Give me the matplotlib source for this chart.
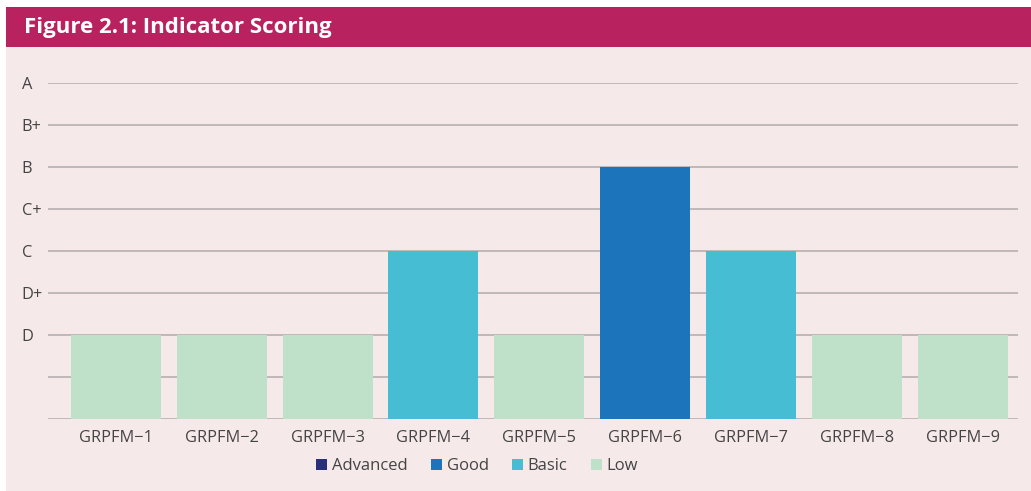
import matplotlib.pyplot as plt
from matplotlib.patches import Rectangle, Patch

plt.rcParams['font.family'] = ['Open Sans', 'DejaVu Sans']

# data
indicators = ['GRPFM\u22121', 'GRPFM\u22122', 'GRPFM\u22123', 'GRPFM\u22124', 'GRPFM\u22125',
              'GRPFM\u22126', 'GRPFM\u22127', 'GRPFM\u22128', 'GRPFM\u22129']
scores = [2, 2, 2, 4, 2, 6, 4, 2, 2]          # 2 = D, 4 = C, 6 = B
levels = ['Low', 'Low', 'Low', 'Basic', 'Low', 'Good', 'Basic', 'Low', 'Low']
grade_ticks = [0, 1, 2, 3, 4, 5, 6, 7, 8]
grade_labels = ['', '', 'D', 'D+', 'C', 'C+', 'B', 'B+', 'A']
legend_names = ['Advanced', 'Good', 'Basic', 'Low']

colors = {'Advanced': '#2a2f7c', 'Good': '#1c74bb', 'Basic': '#47bdd3', 'Low': '#bfe1ca'}

fig = plt.figure(figsize=(10.31, 4.91), dpi=100)
W, H = 1031, 491

# panel background and header band
fig.patches.append(Rectangle((6 / W, 0), 1 - 6 / W, 444 / H, transform=fig.transFigure,
                             facecolor='#f6e9ea', edgecolor='none', zorder=-2))
fig.patches.append(Rectangle((6 / W, 444 / H), 1 - 6 / W, 40 / H, transform=fig.transFigure,
                             facecolor='#b8225f', edgecolor='none', zorder=-2))
fig.text(24 / W, 463 / H, 'Figure 2.1: Indicator Scoring', color='white',
         fontsize=16, fontweight='bold', va='center', ha='left')

ax = fig.add_axes([48 / W, 72 / H, 970 / W, 336 / H])
ax.set_zorder(2)
ax.set_facecolor('none')

x = list(range(len(indicators)))
ax.bar(x, scores, width=0.85, color=[colors[l] for l in levels], zorder=3)

ax.set_xlim(-0.64, 8.52)
ax.set_ylim(0, 8)
ax.set_xticks(x)
ax.set_xticklabels(indicators, fontsize=11.8, color='#444444')
ax.set_yticks(grade_ticks)
ax.set_yticklabels(grade_labels, fontsize=11.8, color='#444444')
for lab in ax.get_yticklabels():
    lab.set_horizontalalignment('left')
ax.tick_params(axis='y', length=0, pad=19)
ax.tick_params(axis='x', length=0, pad=8)
ax.grid(axis='y', color='#b0aaab', linewidth=1.1, zorder=1)
for s in ax.spines.values():
    s.set_visible(False)

handles = [Patch(facecolor=colors[n], edgecolor='none', label=n) for n in legend_names]
fig.legend(handles=handles, loc='center', bbox_to_anchor=(477 / W, 25 / H), ncol=4,
           frameon=False, fontsize=12, handlelength=0.65, handleheight=0.65,
           handletextpad=0.3, columnspacing=1.4, labelcolor='#444444')

fig.savefig('out.png', dpi=100, facecolor='white')
